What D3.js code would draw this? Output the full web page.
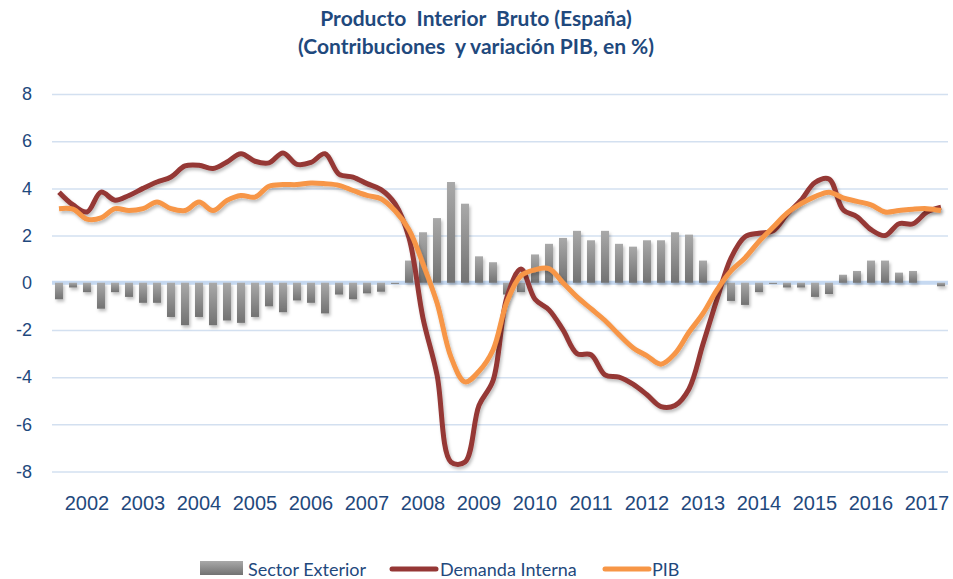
<!DOCTYPE html>
<html>
<head>
<meta charset="utf-8">
<script src="https://cdn.jsdelivr.net/npm/d3@7"></script>
<style>
  body { margin: 0; background: #fff; }
  svg { display: block; font-family: Lato, "Open Sans", sans-serif; }
</style>
</head>
<body>
<svg id="chart"></svg>
<script>
// data, one value per quarter 2002T1 .. 2017T4
const years = [2002, 2003, 2004, 2005, 2006, 2007, 2008, 2009, 2010, 2011, 2012, 2013, 2014, 2015, 2016, 2017];
const trimestres = ["T1", "T2", "T3", "T4"];
const quarters = years.flatMap(y => trimestres.map(t => y + t));

const sectorExterior = [
  -0.7, -0.2, -0.4, -1.1, -0.4, -0.6, -0.85, -0.85,
  -1.45, -1.8, -1.45, -1.8, -1.6, -1.7, -1.45, -1.0,
  -1.25, -0.75, -0.85, -1.3, -0.5, -0.7, -0.45, -0.38,
  -0.05, 0.94, 2.14, 2.74, 4.27, 3.35, 1.12, 0.87,
  -0.5, -0.4, 1.2, 1.65, 1.9, 2.2, 1.8, 2.2,
  1.65, 1.53, 1.8, 1.8, 2.14, 2.04, 0.94, 0,
  -0.77, -0.94, -0.4, -0.05, -0.2, -0.2, -0.6, -0.48,
  0.34, 0.5, 0.94, 0.94, 0.43, 0.5, 0, -0.15
];

const demandaInterna = [
  3.84, 3.3, 3.0, 3.84, 3.5, 3.7, 4.0, 4.27,
  4.48, 4.95, 4.98, 4.84, 5.12, 5.47, 5.15, 5.08,
  5.5, 5.02, 5.1, 5.47, 4.6, 4.48, 4.2, 3.95,
  3.35, 1.9, -1.5, -3.9, -7.6, -7.6, -5.2, -4.15,
  -0.6, 0.58, -0.7, -1.15, -2.0, -3.0, -3.05, -3.9,
  -4.0, -4.3, -4.75, -5.25, -5.2, -4.5, -2.6, -0.7,
  1.05, 1.95, 2.1, 2.2, 2.9, 3.5, 4.25, 4.4,
  3.1, 2.8, 2.25, 2.0, 2.5, 2.5, 3.0, 3.2
];

const pib = [
  3.14, 3.12, 2.7, 2.75, 3.14, 3.06, 3.14, 3.42,
  3.14, 3.06, 3.42, 3.06, 3.49, 3.7, 3.63, 4.09,
  4.16, 4.16, 4.23, 4.2, 4.13, 3.91, 3.7, 3.56,
  3.05, 2.25, 0.8, -0.85, -3.15, -4.2, -3.75, -2.85,
  -0.8, 0.3, 0.55, 0.6, 0.0, -0.6, -1.1, -1.6,
  -2.2, -2.75, -3.1, -3.45, -3.0, -2.1, -1.3, -0.3,
  0.5, 1.05, 1.75, 2.35, 2.95, 3.35, 3.65, 3.84,
  3.6, 3.45, 3.3, 3.0, 3.06, 3.12, 3.14, 3.06
];

const yTicks = [8, 6, 4, 2, 0, -2, -4, -6, -8];
const titleLines = ["Producto  Interior  Bruto (España)", "(Contribuciones  y variación PIB, en %)"];
const legendItems = ["Sector Exterior", "Demanda Interna", "PIB"];

const width = 953, height = 579;
const textColor = "#1f497d";
const redColor = "#953735";
const orangeColor = "#f79646";

const svg = d3.select("#chart").attr("width", width).attr("height", height);

// defs: bar gradient + soft shadow like the office chart
const defs = svg.append("defs");
const grad = defs.append("linearGradient").attr("id", "barGrad")
  .attr("x1", 0).attr("y1", 0).attr("x2", 0).attr("y2", 1);
grad.append("stop").attr("offset", "0%").attr("stop-color", "#a9a9a9");
grad.append("stop").attr("offset", "100%").attr("stop-color", "#727272");

const shadow = defs.append("filter").attr("id", "shadow")
  .attr("x", "-10%").attr("y", "-10%").attr("width", "130%").attr("height", "130%");
shadow.append("feDropShadow")
  .attr("dx", 1.5).attr("dy", 2.5).attr("stdDeviation", 1.5)
  .attr("flood-color", "#000").attr("flood-opacity", 0.25);

// title
svg.append("g").selectAll("text")
  .data(titleLines)
  .enter()
  .append("text")
  .attr("x", 476)
  .attr("y", (d, i) => 26 + i * 28)
  .attr("text-anchor", "middle")
  .style("white-space", "pre")
  .style("font-weight", "bold")
  .style("font-size", "21px")
  .style("fill", textColor)
  .text(d => d);

const x = d3.scaleBand()
  .domain(quarters)
  .range([52, 948])
  .paddingInner(0.43)
  .paddingOuter(0.215);

const y = d3.scaleLinear()
  .domain([-8, 8])
  .range([471.5, 94]);

// grid + y labels
const yAxis = svg.append("g")
  .attr("transform", "translate(52,0)")
  .call(d3.axisLeft(y).tickValues(yTicks).tickSize(-896).tickPadding(20).tickFormat(d => String(d)));
yAxis.select(".domain").remove();
yAxis.selectAll("line").attr("stroke", "#d3e0f0").attr("stroke-width", 1.5);
yAxis.selectAll("text")
  .style("font-size", "18px")
  .style("fill", textColor);

// zero line
svg.append("line")
  .attr("x1", 52).attr("x2", 948)
  .attr("y1", y(0)).attr("y2", y(0))
  .attr("stroke", "#c6d9f1")
  .attr("stroke-width", 4);

// x labels, one per year under its third quarter
const xAxis = svg.append("g")
  .attr("transform", "translate(0,471.5)")
  .call(d3.axisBottom(x)
    .tickValues(years.map(yr => yr + "T3"))
    .tickFormat(d => d.slice(0, 4))
    .tickSize(0)
    .tickPadding(24));
xAxis.select(".domain").remove();
xAxis.selectAll("text")
  .style("font-size", "20px")
  .style("fill", textColor);

// bars
svg.append("g").attr("class", "bars")
  .attr("filter", "url(#shadow)")
  .selectAll("rect")
  .data(sectorExterior)
  .enter()
  .append("rect")
  .attr("x", (d, i) => x(quarters[i]))
  .attr("width", x.bandwidth())
  .attr("y", d => y(Math.max(0, d)))
  .attr("height", d => Math.abs(y(d) - y(0)))
  .attr("fill", "url(#barGrad)");

const line = d3.line()
  .x((d, i) => x(quarters[i]) + x.bandwidth() / 2)
  .y(d => y(d))
  .curve(d3.curveCatmullRom.alpha(0.5));

svg.append("path")
  .datum(demandaInterna)
  .attr("d", line)
  .attr("fill", "none")
  .attr("stroke", redColor)
  .attr("stroke-width", 5)
  .attr("stroke-linejoin", "round")
  .attr("filter", "url(#shadow)");

svg.append("path")
  .datum(pib)
  .attr("d", line)
  .attr("fill", "none")
  .attr("stroke", orangeColor)
  .attr("stroke-width", 5)
  .attr("stroke-linejoin", "round")
  .attr("filter", "url(#shadow)");

// legend
const legend = svg.append("g").attr("class", "legend");
legend.append("rect")
  .attr("x", 200).attr("y", 561).attr("width", 43).attr("height", 14)
  .attr("fill", "url(#barGrad)");
legend.append("line")
  .attr("x1", 392).attr("x2", 436).attr("y1", 569).attr("y2", 569)
  .attr("stroke", redColor).attr("stroke-width", 5).attr("stroke-linecap", "round");
legend.append("line")
  .attr("x1", 605).attr("x2", 649).attr("y1", 569).attr("y2", 569)
  .attr("stroke", orangeColor).attr("stroke-width", 5).attr("stroke-linecap", "round");
legend.selectAll("text")
  .data(legendItems)
  .enter()
  .append("text")
  .attr("x", (d, i) => [248, 440, 652][i])
  .attr("y", 576)
  .style("font-size", "18px")
  .style("fill", textColor)
  .text(d => d);
</script>
</body>
</html>
